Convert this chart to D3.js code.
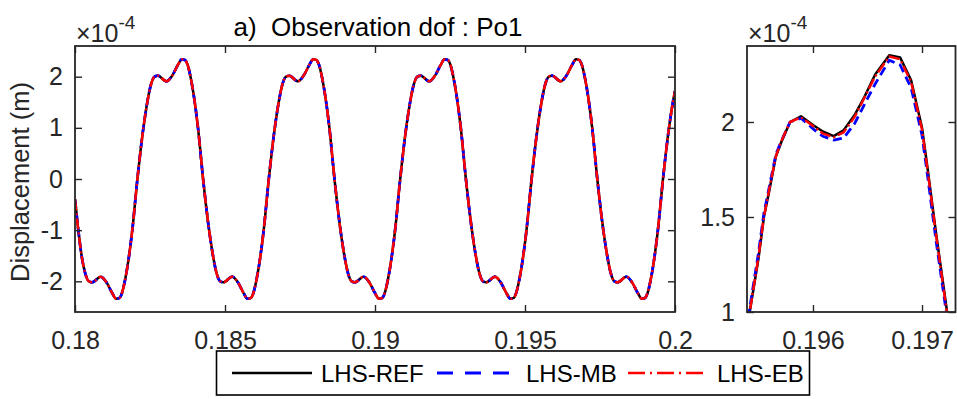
<!DOCTYPE html>
<html><head><meta charset="utf-8">
<script src="https://cdn.jsdelivr.net/npm/d3@7"></script>
<style>
body{margin:0;background:#fff}
text{font-family:"Liberation Sans",Arial,Helvetica,sans-serif}
</style>
</head><body>
<svg id="c" width="957" height="399"></svg>
<script>
// ---- data (displacement in units of 1e-4 m) ----
const tLeft = [
 0.18000,
 0.18011,0.18022,0.18033,0.18046,0.18057,0.18086,0.18106,0.18124,0.18137,0.18147,0.18157,0.18167,0.18191,
 0.18208,0.18228,0.18241,0.18252,0.18265,0.18276,0.18305,0.18325,0.18343,0.18356,0.18366,0.18376,0.18386,0.18410,
 0.18427,0.18447,0.18460,0.18471,0.18484,0.18495,0.18524,0.18544,0.18562,0.18575,0.18585,0.18595,0.18605,0.18629,
 0.18646,0.18666,0.18679,0.18690,0.18703,0.18714,0.18743,0.18763,0.18781,0.18794,0.18804,0.18814,0.18824,0.18848,
 0.18865,0.18885,0.18898,0.18909,0.18922,0.18933,0.18962,0.18982,0.19000,0.19013,0.19023,0.19033,0.19043,0.19067,
 0.19084,0.19104,0.19117,0.19128,0.19141,0.19152,0.19181,0.19201,0.19219,0.19232,0.19242,0.19252,0.19262,0.19286,
 0.19303,0.19323,0.19336,0.19347,0.19360,0.19371,0.19400,0.19420,0.19438,0.19451,0.19461,0.19471,0.19481,0.19505,
 0.19522,0.19542,0.19555,0.19566,0.19579,0.19590,0.19619,0.19639,0.19657,0.19670,0.19680,0.19690,0.19700,0.19724,
 0.19741,0.19761,0.19774,0.19785,0.19798,0.19809,0.19838,0.19858,0.19876,0.19889,0.19899,0.19909,0.19919,0.19943,
 0.19960,0.19980,0.19993,0.20000
];
const refLeft = [
 -0.40,
 -1.0,-1.5,-1.82,-2.0,-2.02,-1.91,-2.03,-2.23,-2.34,-2.33,-2.22,-1.97,-1.0,
 0,1.0,1.5,1.82,2.0,2.02,1.91,2.03,2.23,2.34,2.33,2.22,1.97,1.0,
 0,-1.0,-1.5,-1.82,-2.0,-2.02,-1.91,-2.03,-2.23,-2.34,-2.33,-2.22,-1.97,-1.0,
 0,1.0,1.5,1.82,2.0,2.02,1.91,2.03,2.23,2.34,2.33,2.22,1.97,1.0,
 0,-1.0,-1.5,-1.82,-2.0,-2.02,-1.91,-2.03,-2.23,-2.34,-2.33,-2.22,-1.97,-1.0,
 0,1.0,1.5,1.82,2.0,2.02,1.91,2.03,2.23,2.34,2.33,2.22,1.97,1.0,
 0,-1.0,-1.5,-1.82,-2.0,-2.02,-1.91,-2.03,-2.23,-2.34,-2.33,-2.22,-1.97,-1.0,
 0,1.0,1.5,1.82,2.0,2.02,1.91,2.03,2.23,2.34,2.33,2.22,1.97,1.0,
 0,-1.0,-1.5,-1.82,-2.0,-2.02,-1.91,-2.03,-2.23,-2.34,-2.33,-2.22,-1.97,-1.0,
 0,1.0,1.5,1.72
];
// At full-window scale the three models overlap the reference curve
const mbLeft = refLeft;
const ebLeft = refLeft;

// zoomed window around the 4th peak
const tZoom = [0.19535,0.19542,0.19550,0.19555,0.19560,0.19566,0.19571,0.19579,0.19589,0.19601,0.19609,0.19619,
               0.19628,0.19638,0.19647,0.19657,0.19670,0.19680,0.19690,0.19700,0.19705,0.19713,0.19723,0.19730];
const refZoom = [0.72,1.0,1.28,1.5,1.64,1.82,1.895,2.0,2.03,1.98,1.95,1.926,
                 1.956,2.035,2.13,2.25,2.351,2.339,2.22,1.97,1.76,1.41,1.0,0.74];
const mbZoom  = [0.75,1.02,1.31,1.52,1.66,1.83,1.90,2.0,2.02,1.96,1.925,1.905,
                 1.915,1.99,2.09,2.20,2.325,2.30,2.18,1.93,1.72,1.37,0.97,0.72];
const ebZoom  = [0.72,1.0,1.29,1.5,1.65,1.82,1.90,2.0,2.025,1.975,1.94,1.92,
                 1.945,2.025,2.125,2.24,2.345,2.33,2.21,1.96,1.75,1.40,0.99,0.73];

const xTicksLeft = [0.18,0.185,0.19,0.195,0.2];
const yTicksLeft = [-2,-1,0,1,2];
const xTicksRight = [0.196,0.197];
const yTicksRight = [1,1.5,2];
const seriesNames = ["LHS-REF","LHS-MB","LHS-EB"];
const titleText = "a)  Observation dof : Po1";
const yLabel = "Displacement (m)";

// ---- styles ----
const AX = "#262626";
const styles = [
  {color:"#000000", width:2.5, dash:null,        legDash:null},
  {color:"#0000ff", width:2.8, dash:"9,5",       legDash:"16,12"},
  {color:"#ff0000", width:2.5, dash:"11,3,2,3",  legDash:"17,5,2,5"}
];
const FS = 25;

const svg = d3.select("#c");

function panel(opts){
  const {x0,x1,y0,y1,xd,yd,xt,yt,series,curve,id} = opts;
  const x = d3.scaleLinear().domain(xd).range([x0,x1]);
  const y = d3.scaleLinear().domain(yd).range([y1,y0]);
  const g = svg.append("g");
  g.append("clipPath").attr("id",id).append("rect")
    .attr("x",x0).attr("y",y0).attr("width",x1-x0).attr("height",y1-y0);
  const fmt = d => String(+d.toFixed(4));
  const mk = (ax, ticks, labels, tr, pad) => {
    const a = g.append("g").attr("transform",tr)
      .call(ax.tickValues(ticks).tickSize(-7).tickPadding(labels?pad:0).tickFormat(labels?fmt:""));
    a.select(".domain").remove();
    a.selectAll("line").attr("stroke",AX).attr("stroke-width",1.4);
    a.selectAll("text").attr("fill",AX).style("font-size",FS+"px").attr("font-family",null);
    return a;
  };
  const lines = g.append("g").attr("clip-path",`url(#${id})`);
  series.forEach((s,i)=>{
    const st = styles[i];
    const line = d3.line().x(d=>x(d[0])).y(d=>y(d[1])).curve(curve);
    lines.append("path").datum(d3.zip(s.t,s.v))
      .attr("d",line).attr("fill","none")
      .attr("stroke",st.color).attr("stroke-width",st.width)
      .attr("stroke-dasharray",st.dash)
      .attr("stroke-linejoin","round");
  });
  mk(d3.axisBottom(x), xt, true, `translate(0,${y1})`, 19);
  mk(d3.axisTop(x), xt, false, `translate(0,${y0})`, 0);
  mk(d3.axisLeft(y), yt, true, `translate(${x0},0)`, 12);
  mk(d3.axisRight(y), yt, false, `translate(${x1},0)`, 0);
  g.append("rect").attr("x",x0).attr("y",y0).attr("width",x1-x0).attr("height",y1-y0)
    .attr("fill","none").attr("stroke",AX).attr("stroke-width",1.8);
  // exponent label
  const ex = g.append("text").attr("x",x0+1).attr("y",y0-4).attr("fill",AX).style("font-size","25px");
  ex.append("tspan").text("\u00d710");
  ex.append("tspan").attr("dy",-13).style("font-size","19px").text("-4");
  return {x,y,g};
}

panel({x0:75,x1:675,y0:46,y1:312,xd:[0.18,0.2],yd:[-2.6,2.6],xt:xTicksLeft,yt:yTicksLeft,
  id:"clipL", curve:d3.curveMonotoneX,
  series:[{t:tLeft,v:refLeft},{t:tLeft,v:mbLeft},{t:tLeft,v:ebLeft}]});

panel({x0:747,x1:955.5,y0:46,y1:312,xd:[0.195395,0.197307],yd:[1,2.4],xt:xTicksRight,yt:yTicksRight,
  id:"clipR", curve:d3.curveLinear,
  series:[{t:tZoom,v:refZoom},{t:tZoom,v:mbZoom},{t:tZoom,v:ebZoom}]});

// title
svg.append("text").attr("x",378).attr("y",36).attr("text-anchor","middle")
  .style("font-size","26px").style("white-space","pre").attr("fill","#000").text(titleText);

// y label
svg.append("text").attr("transform","translate(29,182) rotate(-90)").attr("text-anchor","middle")
  .style("font-size","25.5px").attr("fill",AX).text(yLabel);

// legend
const lg = svg.append("g");
lg.append("rect").attr("x",216.5).attr("y",351).attr("width",593).attr("height",44)
  .attr("fill","#fff").attr("stroke","#000").attr("stroke-width",1.6);
const legX = [232,437,628];
seriesNames.forEach((n,i)=>{
  const st = styles[i];
  lg.append("line").attr("x1",legX[i]).attr("x2",legX[i]+80).attr("y1",373).attr("y2",373)
    .attr("stroke",st.color).attr("stroke-width",st.width).attr("stroke-dasharray",st.legDash);
  lg.append("text").attr("x",legX[i]+89).attr("y",382).style("font-size","24px").attr("fill","#000").text(n);
});
</script>
</body></html>
